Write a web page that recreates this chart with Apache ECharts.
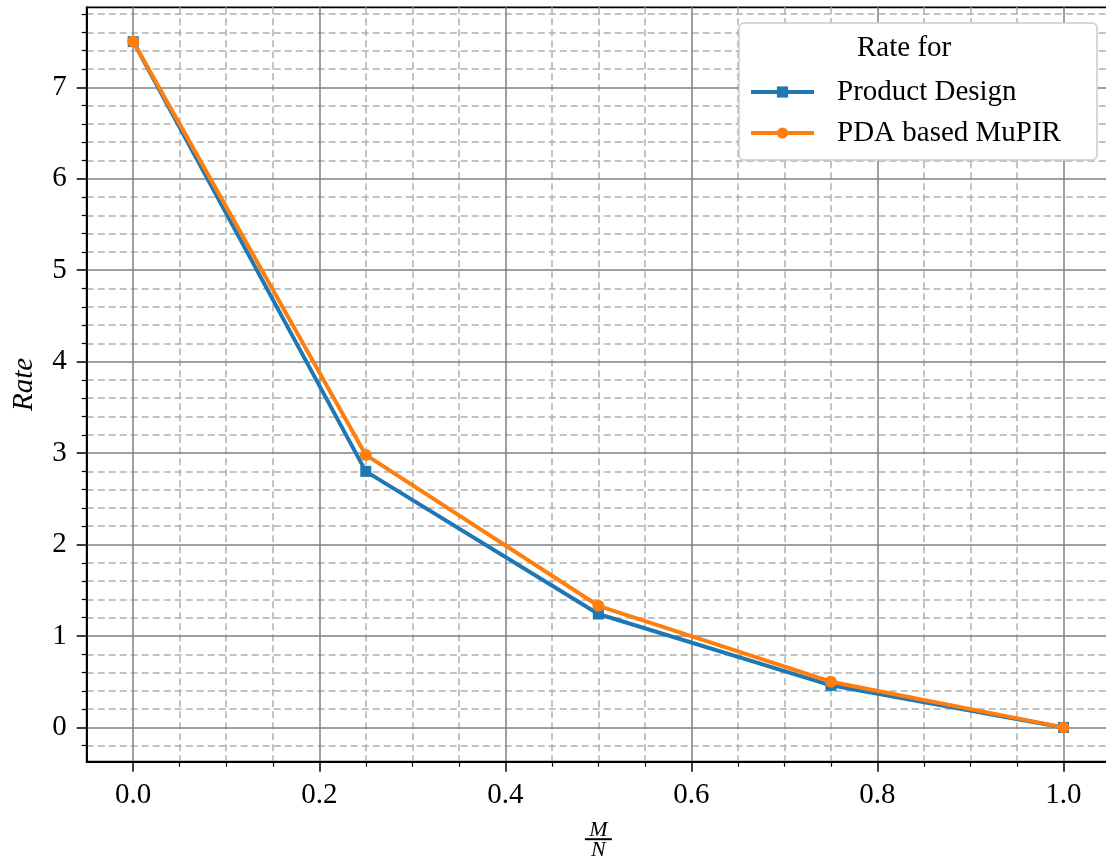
<!DOCTYPE html>
<html>
<head>
<meta charset="utf-8">
<script src="https://cdn.jsdelivr.net/npm/echarts@6/dist/echarts.min.js"></script>
<style>html,body{margin:0;padding:0;background:#fff;}#c{width:1106px;height:858px;}</style>
</head>
<body>
<div id="c"></div>
<script>
// ---- data ----
const xValues = [0, 0.25, 0.5, 0.75, 1.0];
const productDesign = [7.5, 2.80, 1.24, 0.46, 0.0];
const pdaMuPIR = [7.5, 2.98, 1.33, 0.50, 0.0];
const seriesNames = ['Product Design', 'PDA based MuPIR'];
const legendTitle = 'Rate for';
// ---- ticks ----
const xMajorTicks = [0, 0.2, 0.4, 0.6, 0.8, 1.0];
const xMinorTicks = [0.05, 0.1, 0.15, 0.25, 0.3, 0.35, 0.45, 0.5, 0.55, 0.65, 0.7, 0.75, 0.85, 0.9, 0.95];
const yMajorTicks = [0, 1, 2, 3, 4, 5, 6, 7];
const yMinorTicks = [-0.2, 0.2, 0.4, 0.6, 0.8, 1.2, 1.4, 1.6, 1.8, 2.2, 2.4, 2.6, 2.8,
  3.2, 3.4, 3.6, 3.8, 4.2, 4.4, 4.6, 4.8, 5.2, 5.4, 5.6, 5.8, 6.2, 6.4, 6.6, 6.8, 7.2, 7.4, 7.6, 7.8];
const xRange = [-0.05, 1.05];
const yRange = [-0.375, 7.875];

const FONT = 'Liberation Serif';
const chart = echarts.init(document.getElementById('c'), null, {renderer: 'canvas'});

const zip = (xs, ys) => xs.map((x, i) => [x, ys[i]]);

const majorAxisCommon = {
  type: 'value',
  axisLine: {show: true, onZero: false, lineStyle: {color: '#000', width: 1.8}},
  axisTick: {show: true, inside: false, length: 10, lineStyle: {color: '#000', width: 1.5}},
  splitLine: {show: true, lineStyle: {color: '#808080', width: 1.5, type: 'solid'}},
  axisLabel: {color: '#000', fontFamily: FONT, fontSize: 29}
};
const minorAxisCommon = {
  type: 'value',
  axisLine: {show: false, onZero: false},
  axisLabel: {show: false},
  axisTick: {show: true, inside: false, length: 5, lineStyle: {color: '#000', width: 1.2}},
  splitLine: {show: true, lineStyle: {color: '#b0b0b0', width: 1.5, type: [7, 4]}}
};

chart.setOption({
  animation: false,
  backgroundColor: '#fff',
  grid: {left: 86.7, right: -4, top: 7.3, bottom: 96.3, show: true, borderColor: '#000', borderWidth: 1.8,
         backgroundColor: 'transparent', containLabel: false, outerBoundsMode: 'none'},
  xAxis: [
    Object.assign({}, majorAxisCommon, {
      position: 'bottom', min: xRange[0], max: xRange[1], z: 3,
      axisTick: Object.assign({}, majorAxisCommon.axisTick, {customValues: xMajorTicks}),
      axisLabel: Object.assign({}, majorAxisCommon.axisLabel, {customValues: xMajorTicks, margin: 19, formatter: v => v.toFixed(1)}),
      name: '{a|M}\n{b| }\n{c|N}',
      nameLocation: 'middle',
      nameGap: 62,
      nameTextStyle: {
        fontFamily: FONT,
        rich: {
          a: {fontSize: 22, fontStyle: 'italic', fontFamily: FONT, lineHeight: 14, color: '#000', align: 'center'},
          b: {width: 27, height: 2, lineHeight: 3, fontSize: 2, backgroundColor: '#000', align: 'center'},
          c: {fontSize: 22, fontStyle: 'italic', fontFamily: FONT, lineHeight: 20, color: '#000', align: 'center'}
        }
      }
    }),
    Object.assign({}, minorAxisCommon, {
      position: 'bottom', min: xRange[0], max: xRange[1], z: 1,
      axisTick: Object.assign({}, minorAxisCommon.axisTick, {customValues: xMinorTicks})
    })
  ],
  yAxis: [
    Object.assign({}, majorAxisCommon, {
      position: 'left', min: yRange[0], max: yRange[1], z: 3,
      axisTick: Object.assign({}, majorAxisCommon.axisTick, {customValues: yMajorTicks}),
      axisLabel: Object.assign({}, majorAxisCommon.axisLabel, {customValues: yMajorTicks, margin: 20}),
      name: 'Rate',
      nameLocation: 'middle',
      nameGap: 48,
      nameRotate: 90,
      nameTextStyle: {fontFamily: FONT, fontSize: 29, fontStyle: 'italic', color: '#000'}
    }),
    Object.assign({}, minorAxisCommon, {
      position: 'left', min: yRange[0], max: yRange[1], z: 1,
      axisTick: Object.assign({}, minorAxisCommon.axisTick, {customValues: yMinorTicks})
    })
  ],
  legend: {
    left: 739, top: 23,
    orient: 'vertical',
    padding: [53, 8, 11, 10],
    itemGap: 9,
    itemWidth: 63,
    itemHeight: 14,
    backgroundColor: '#fff',
    borderColor: '#cccccc',
    borderWidth: 1.5,
    borderRadius: 5,
    z: 10,
    data: seriesNames,
    lineStyle: {width: 4},
    textStyle: {fontFamily: FONT, fontSize: 29, color: '#000', lineHeight: 32, width: 252, padding: [0, 0, 0, 18]}
  },
  graphic: [{
    type: 'text', left: 907 - 50, top: 34, z: 100,
    style: {text: legendTitle, fontFamily: FONT, fontSize: 29, fill: '#000', width: 100, align: 'center'}
  }],
  series: [
    {
      name: seriesNames[0], type: 'line', data: zip(xValues, productDesign),
      xAxisIndex: 0, yAxisIndex: 0, z: 5,
      symbol: 'rect', symbolSize: 11, showAllSymbol: true,
      lineStyle: {color: '#1f77b4', width: 4},
      itemStyle: {color: '#1f77b4'}
    },
    {
      name: seriesNames[1], type: 'line', data: zip(xValues, pdaMuPIR),
      xAxisIndex: 0, yAxisIndex: 0, z: 6,
      symbol: 'circle', symbolSize: 12, showAllSymbol: true,
      lineStyle: {color: '#ff7f0e', width: 4},
      itemStyle: {color: '#ff7f0e'}
    }
  ]
});
</script>
</body>
</html>
